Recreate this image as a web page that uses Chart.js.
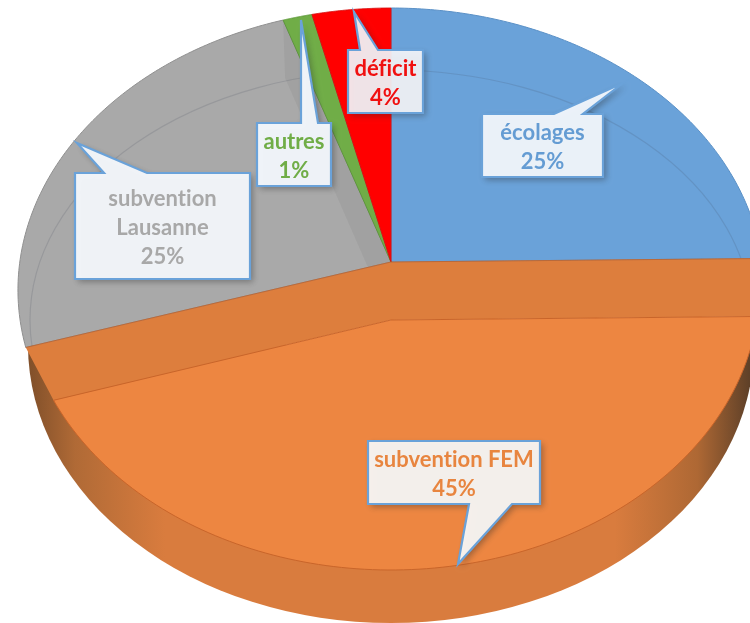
<!DOCTYPE html>
<html>
<head>
<meta charset="utf-8">
<script src="https://cdn.jsdelivr.net/npm/chart.js@4"></script>
<style>
    html, body { margin: 0; background: #fff; overflow: hidden; }
    #wrap { width: 750px; height: 623px; }
</style>
</head>
<body>
<div id="wrap"><canvas id="chart" width="750" height="623"></canvas></div>
<script>
const categories = ['écolages', 'subvention FEM', 'subvention Lausanne', 'autres', 'déficit'];
const shares = [24.8, 45.4, 24.65, 1.4, 3.75];
const sliceColors = ['#6AA2D9', '#ED8641', '#A9A9A9', '#70AD47', '#FF0000'];
const edgeColors = ['#5A90C6', '#C9652A', '#8F8F8F', '#5F9A3C', '#D81010'];
const textColors = ['#649CD3', '#E8853F', '#A8A8A8', '#70AD47', '#F01010'];

// perspective of the two faces: the centre of the pie is not the centre of the ellipse
const topFace = { x: 391, y: 262, a: 279.2, b: 371.2, k: -0.0993 };
const lowFace = { x: 391, y: 320, a: 280, b: 366, k: 0.12 };

// callout boxes, tail tip and tail base, in slice order
const callouts = [
    { box: [482, 114, 121, 63], tip: [623, 83], base: [554, 583], lines: ['écolages'], fill: 'rgba(240,245,251,0.97)' },
    { box: [368, 441, 172, 63], tip: [458, 564], base: [469, 512], lines: ['subvention FEM'], bottom: true, fill: 'rgba(247,245,242,0.96)' },
    { box: [75, 173, 175, 106], tip: [77, 143], base: [104, 147], lines: ['subvention', 'Lausanne'], fill: 'rgba(242,245,249,0.98)' },
    { box: [257, 123, 74, 63], tip: [301, 20], base: [301, 318], lines: ['autres'], fill: 'rgba(241,245,250,0.98)' },
    { box: [348, 50, 75, 63], tip: [354, 12], base: [360, 378], lines: ['déficit'], fill: 'rgba(244,245,250,0.92)' }
];

function project(f, angle) {
    const w = 1 + f.k * Math.sin(angle);
    return [f.x + f.b * Math.cos(angle) / w, f.y + f.a * Math.sin(angle) / w];
}

function slicePath(ctx, f, a0, a1) {
    ctx.beginPath();
    ctx.moveTo(f.x, f.y);
    for (let i = 0; i <= 120; i++) {
        const p = project(f, a0 + (a1 - a0) * i / 120);
        ctx.lineTo(p[0], p[1]);
    }
    ctx.closePath();
}

function drawWall(ctx) {
    const g = ctx.createLinearGradient(0, 0, 750, 0);
    g.addColorStop(0.03, '#7A4C28');
    g.addColorStop(0.10, '#B06A36');
    g.addColorStop(0.22, '#D97C3E');
    g.addColorStop(0.82, '#D97C3E');
    g.addColorStop(0.93, '#AE6834');
    g.addColorStop(1, '#5E4028');
    ctx.beginPath();
    ctx.ellipse(391, 345, 363, 278, 0, 0, Math.PI);
    ctx.closePath();
    ctx.fillStyle = g;
    ctx.fill();
}

function drawBackArc(ctx, arc) {
    ctx.save();
    slicePath(ctx, topFace, arc.startAngle, arc.endAngle);
    ctx.clip();
    ctx.beginPath();
    ctx.ellipse(391, 320, 361, 250, 0, 0, Math.PI * 2);
    ctx.strokeStyle = 'rgba(60,70,90,0.16)';
    ctx.lineWidth = 1.2;
    ctx.stroke();
    ctx.restore();
}

function drawCallout(ctx, c, i) {
    const [x, y, w, h] = c.box;
    const edgeY = c.bottom ? y + h : y;
    ctx.save();
    ctx.beginPath();
    ctx.moveTo(x, y);
    if (!c.bottom) {
        ctx.lineTo(c.base[0], y);
        ctx.lineTo(c.tip[0], c.tip[1]);
        ctx.lineTo(c.base[1], y);
    }
    ctx.lineTo(x + w, y);
    ctx.lineTo(x + w, y + h);
    if (c.bottom) {
        ctx.lineTo(c.base[1], edgeY);
        ctx.lineTo(c.tip[0], c.tip[1]);
        ctx.lineTo(c.base[0], edgeY);
    }
    ctx.lineTo(x, y + h);
    ctx.closePath();
    ctx.shadowColor = 'rgba(40,40,40,0.4)';
    ctx.shadowBlur = 6;
    ctx.shadowOffsetX = 3;
    ctx.shadowOffsetY = 3;
    ctx.fillStyle = c.fill;
    ctx.fill();
    ctx.shadowColor = 'transparent';
    ctx.strokeStyle = '#6AA2D9';
    ctx.lineWidth = 2.2;
    ctx.stroke();

    const lines = c.lines.concat(Math.round(shares[i]) + '%');
    const startY = y + h / 2 + 1.5 - (lines.length - 1) * 14.5;
    ctx.fillStyle = textColors[i];
    ctx.font = 'bold 22px Lato';
    ctx.textRendering = 'optimizeSpeed'; // no "ti" ligature
    ctx.textAlign = 'center';
    ctx.textBaseline = 'middle';
    lines.forEach((line, n) => ctx.fillText(line, x + w / 2, startY + n * 29));
    ctx.restore();
}

const pie3d = {
    id: 'pie3d',
    beforeDatasetsDraw(chart) {
        const ctx = chart.ctx;
        const arcs = chart.getDatasetMeta(0).data;
        const orange = arcs[1];

        drawWall(ctx);

        // upper slices
        [0, 2, 3, 4].forEach(i => {
            slicePath(ctx, topFace, arcs[i].startAngle, arcs[i].endAngle);
            ctx.fillStyle = sliceColors[i];
            ctx.fill();
            ctx.strokeStyle = edgeColors[i];
            ctx.lineWidth = 1;
            ctx.stroke();
        });
        drawBackArc(ctx, arcs[0]);
        drawBackArc(ctx, arcs[2]);

        // inner wall of the grey slice, seen through it
        const g0 = project(topFace, arcs[2].endAngle);
        ctx.beginPath();
        ctx.moveTo(g0[0], g0[1]);
        ctx.lineTo(topFace.x, topFace.y);
        ctx.lineTo(lowFace.x, lowFace.y);
        ctx.lineTo(g0[0] + 2, g0[1] + 58);
        ctx.closePath();
        ctx.fillStyle = 'rgba(60,60,50,0.07)';
        ctx.fill();

        // inner walls of the orange slice
        const u0 = project(topFace, orange.startAngle);
        const u1 = project(topFace, orange.endAngle);
        const l0 = project(lowFace, orange.startAngle);
        const l1 = project(lowFace, orange.endAngle);
        ctx.beginPath();
        ctx.moveTo(topFace.x, topFace.y);
        ctx.lineTo(u0[0], u0[1]);
        ctx.lineTo(l0[0], l0[1]);
        ctx.lineTo(lowFace.x, lowFace.y);
        ctx.lineTo(l1[0], l1[1]);
        ctx.lineTo(u1[0], u1[1]);
        ctx.closePath();
        ctx.fillStyle = '#DD7E3D';
        ctx.fill();
        ctx.strokeStyle = '#B9693A';
        ctx.lineWidth = 1;
        ctx.beginPath();
        ctx.moveTo(u1[0], u1[1]);
        ctx.lineTo(topFace.x, topFace.y);
        ctx.lineTo(u0[0], u0[1]);
        ctx.stroke();

        // orange face
        slicePath(ctx, lowFace, orange.startAngle, orange.endAngle);
        ctx.fillStyle = sliceColors[1];
        ctx.fill();
        ctx.strokeStyle = edgeColors[1];
        ctx.lineWidth = 1;
        ctx.stroke();

        return false;
    },
    afterDraw(chart) {
        callouts.forEach((c, i) => drawCallout(chart.ctx, c, i));
    }
};

new Chart(document.querySelector('#chart'), {
    type: 'pie',
    data: {
        labels: categories,
        datasets: [{ data: shares, backgroundColor: sliceColors, borderColor: edgeColors }]
    },
    options: {
        responsive: false,
        animation: false,
        plugins: { legend: { display: false }, tooltip: { enabled: false } }
    },
    plugins: [pie3d]
});
</script>
</body>
</html>
